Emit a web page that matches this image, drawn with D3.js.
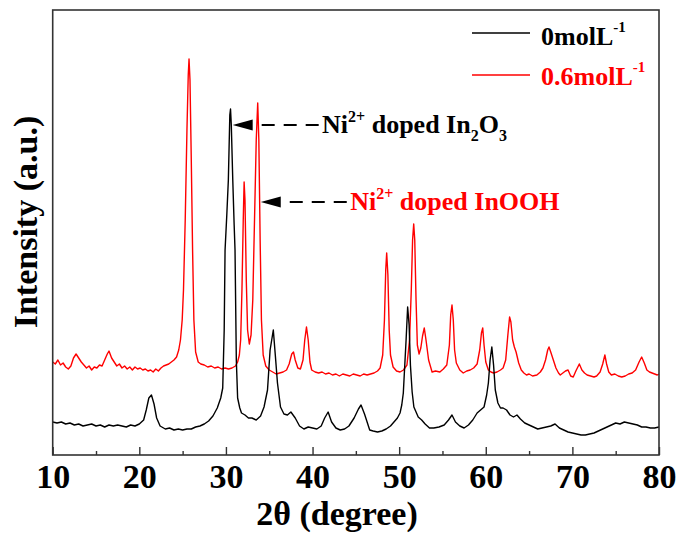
<!DOCTYPE html>
<html>
<head>
<meta charset="utf-8">
<script src="https://cdn.jsdelivr.net/npm/d3@7"></script>
<style>
  html, body { margin: 0; padding: 0; background: #fff; }
  svg { display: block; }
  text { font-family: "Liberation Serif", "Times New Roman", serif; font-weight: bold; }
</style>
</head>
<body>
<svg id="chart" width="684" height="535"></svg>
<script>
// ---------- data ----------
const xTicksMajor = [10, 20, 30, 40, 50, 60, 70, 80];
const xTicksMinor = [15, 25, 35, 45, 55, 65, 75];

const theta0 = [10.0,10.5,11.0,11.5,12.0,12.5,13.0,13.5,14.0,14.5,15.0,15.5,16.0,16.5,17.0,17.5,18.0,18.5,19.0,19.5,20.0,20.5,20.8,21.1,21.4,21.7,22.0,22.4,23.0,23.5,24.0,24.5,25.0,25.5,26.0,26.5,27.0,27.5,28.0,28.5,29.0,29.4,29.63,29.8,29.9,30.1,30.28,30.45,30.53,30.62,30.79,30.95,31.05,31.2,31.35,31.6,31.8,32.2,32.6,33.0,33.5,34.0,34.4,34.8,35.1,35.47,35.7,35.95,36.3,36.7,37.1,37.5,38.0,38.5,39.0,39.5,40.0,40.5,41.0,41.4,41.8,42.2,42.7,43.2,43.7,44.2,44.8,45.3,45.6,46.0,46.6,47.0,47.5,48.0,48.5,49.0,49.3,49.8,50.1,50.3,50.48,50.8,50.98,51.15,51.3,51.5,51.7,52.2,52.6,53.0,53.5,54.0,54.6,55.2,55.7,56.1,56.5,57.0,57.5,58.0,58.5,59.0,59.4,59.8,60.1,60.3,60.5,60.7,60.9,61.1,61.4,61.7,62.0,62.4,62.8,63.2,63.6,64.0,64.5,65.0,65.5,66.0,66.5,67.0,67.5,68.0,68.5,69.0,69.5,70.0,70.5,71.0,71.5,72.0,72.5,73.0,73.5,74.0,74.5,75.0,75.5,76.0,76.5,77.0,77.5,78.0,78.5,79.0,79.5,80.0];
const intensity0 = [33,32,33,31,32,30,31,29,30,31,29,30,28,30,29,30,29,28,30,29,31,35,45,57,60,51,37,29,26,27,25,26,25,26,26,28,29,31,34,39,47,57,67,125,205,240,275,340,346,330,275,230,205,95,57,47,42,40,37,37,35,39,48,65,105,125,100,72,48,41,40,43,37,29,26,28,27,26,29,37,43,33,27,25,26,29,37,46,50,41,25,24,23,24,26,29,32,37,42,50,62,115,148,130,90,63,48,38,35,31,27,27,28,30,35,40,33,29,27,30,35,42,45,48,60,72,95,108,90,65,52,47,47,45,40,38,40,36,32,30,28,26,27,28,29,31,27,25,23,22,21,20,20,21,22,24,26,28,30,32,31,33,32,31,30,28,28,27,27,28];

const theta06 = [10.0,10.3,10.6,10.9,11.2,11.5,11.8,12.1,12.4,12.7,13.0,13.3,13.6,13.9,14.2,14.5,14.8,15.1,15.4,15.7,16.0,16.3,16.5,16.8,17.1,17.4,17.7,18.0,18.3,18.6,18.9,19.2,19.5,19.8,20.1,20.4,20.7,21.0,21.3,21.6,21.9,22.2,22.5,22.8,23.1,23.4,23.7,24.0,24.3,24.55,24.75,24.95,25.1,25.3,25.5,25.65,25.74,25.85,26.0,26.15,26.3,26.5,26.8,27.1,27.5,27.9,28.3,28.7,29.1,29.5,29.9,30.3,30.7,31.1,31.35,31.55,31.7,31.85,32.0,32.1,32.2,32.35,32.5,32.7,32.9,33.1,33.3,33.5,33.67,33.8,33.95,34.1,34.3,34.6,35.0,35.4,35.8,36.2,36.6,37.0,37.3,37.6,37.8,38.0,38.3,38.6,38.9,39.1,39.3,39.5,39.7,39.9,40.3,40.7,41.1,41.5,41.9,42.3,42.7,43.1,43.5,43.9,44.3,44.7,45.1,45.5,45.9,46.3,46.7,47.1,47.5,47.8,48.1,48.3,48.45,48.56,48.7,48.85,49.0,49.3,49.7,50.1,50.5,50.9,51.2,51.4,51.55,51.68,51.8,51.95,52.1,52.3,52.5,52.7,52.9,53.1,53.4,53.8,54.2,54.7,55.1,55.5,55.8,55.95,56.1,56.25,56.4,56.6,57.0,57.4,57.8,58.2,58.6,59.0,59.3,59.5,59.65,59.8,60.0,60.3,60.6,60.9,61.3,61.7,62.0,62.3,62.55,62.75,62.9,63.1,63.3,63.5,63.8,64.1,64.4,64.7,65.0,65.4,65.9,66.3,66.6,66.9,67.15,67.3,67.5,67.8,68.1,68.4,68.6,68.9,69.2,69.5,69.8,70.1,70.4,70.8,71.1,71.4,71.7,72.1,72.5,72.8,73.2,73.5,73.75,73.95,74.2,74.5,74.9,75.3,75.7,76.1,76.5,76.9,77.3,77.7,78.0,78.3,78.6,78.9,79.2,79.5,79.8,80.0];
const intensity06 = [93,91,95,90,92,88,86,89,97,101,97,93,90,87,89,85,88,87,90,89,95,101,104,97,93,89,91,87,89,86,88,85,88,86,87,85,86,84,85,83,86,84,87,89,90,91,93,95,98,105,115,135,165,235,325,380,396,375,295,205,135,103,93,91,90,88,89,87,88,86,87,86,87,89,93,100,115,165,235,273,255,175,125,111,120,155,235,315,352,315,215,135,100,89,85,83,81,82,83,85,91,101,103,95,87,86,95,115,128,115,93,85,83,82,83,81,82,80,81,79,81,80,79,81,80,79,81,80,81,82,84,87,100,135,185,202,180,125,100,88,84,83,85,90,115,165,215,231,215,155,110,101,107,119,127,115,95,83,84,83,86,90,110,140,150,135,105,92,85,82,84,85,87,91,105,122,127,110,93,85,83,82,83,85,87,95,120,138,133,115,108,103,92,85,82,80,81,79,80,83,87,95,105,108,103,95,87,82,80,82,84,85,79,78,84,91,85,82,80,79,78,79,83,91,100,91,83,80,81,79,78,79,81,82,85,93,98,92,85,83,82,81,80,81];

const seriesNames = ["0molL", "0.6molL"];
const seriesColors = ["#000000", "#ff0000"];

// annotation anchors (data coordinates)
const annoTip = [[30.78, 330], [34.02, 253]];
const annoText = [[41.1, 322], [44.35, 245]];

// ---------- layout ----------
const svg = d3.select("#chart");
const pLeft = 52.7, pRight = 659, pTop = 10, pBottom = 455;
const x = d3.scaleLinear().domain([10, 80]).range([pLeft, pRight]);
const y = d3.scaleLinear().domain([0, 445]).range([pBottom, pTop]);

// data lines
const line = d3.line().x(d => x(d[0])).y(d => y(d[1]));
const s0 = theta0.map((t, i) => [t, intensity0[i]]);
const s06 = theta06.map((t, i) => [t, intensity06[i]]);
svg.append("path").datum(s06).attr("d", line).attr("fill", "none")
  .attr("stroke", seriesColors[1]).attr("stroke-width", 1.4).attr("stroke-linejoin", "round");
svg.append("path").datum(s0).attr("d", line).attr("fill", "none")
  .attr("stroke", seriesColors[0]).attr("stroke-width", 1.4).attr("stroke-linejoin", "round");

// frame
svg.append("rect").attr("x", pLeft).attr("y", pTop)
  .attr("width", pRight - pLeft).attr("height", pBottom - pTop)
  .attr("fill", "none").attr("stroke", "#333").attr("stroke-width", 1.6);

// axes
const axMaj = d3.axisBottom(x).tickValues(xTicksMajor).tickSize(-8).tickPadding(9).tickFormat(d3.format("d"));
const gMaj = svg.append("g").attr("transform", `translate(0,${pBottom})`).call(axMaj);
gMaj.select(".domain").remove();
gMaj.selectAll(".tick line").attr("stroke", "#333").attr("stroke-width", 1.4);
gMaj.selectAll(".tick text").attr("font-size", 34).attr("fill", "#000")
  .style("font-family", '"Liberation Serif", "Times New Roman", serif').style("font-weight", "bold");
const axMin = d3.axisBottom(x).tickValues(xTicksMinor).tickSize(-4).tickFormat("");
const gMin = svg.append("g").attr("transform", `translate(0,${pBottom})`).call(axMin);
gMin.select(".domain").remove();
gMin.selectAll(".tick line").attr("stroke", "#333").attr("stroke-width", 1.4);

// axis titles
svg.append("text").attr("x", 337).attr("y", 525).attr("text-anchor", "middle")
  .attr("font-size", 34).attr("fill", "#000").text("2θ (degree)");
svg.append("text").attr("transform", "translate(37,222) rotate(-90)").attr("text-anchor", "middle")
  .attr("font-size", 34).attr("fill", "#000").text("Intensity (a.u.)");

// legend
const legY = [33, 75];
const legBase = [45, 85];
seriesNames.forEach((n, i) => {
  svg.append("line").attr("x1", 472).attr("x2", 530).attr("y1", legY[i]).attr("y2", legY[i])
    .attr("stroke", seriesColors[i]).attr("stroke-width", 1.6);
  const t = svg.append("text").attr("x", 541).attr("y", legBase[i]).attr("font-size", 26).attr("fill", seriesColors[i]);
  t.append("tspan").text(n);
  t.append("tspan").attr("font-size", 15).attr("dy", -13).text("-1");
});

// annotations
function arrow(tip, txt, color, parts) {
  const tx = x(tip[0]), ty = y(tip[1]);
  svg.append("path")
    .attr("d", `M${tx},${ty} L${tx + 20},${ty - 5.5} L${tx + 20},${ty + 5.5} Z`)
    .attr("fill", "#000");
  const sx = x(txt[0]);
  svg.append("line").attr("x1", tx + 29).attr("x2", sx - 3).attr("y1", ty).attr("y2", ty)
    .attr("stroke", "#000").attr("stroke-width", 2).attr("stroke-dasharray", "13,9");
  const t = svg.append("text").attr("x", sx).attr("y", y(txt[1])).attr("font-size", 26).attr("fill", color);
  parts.forEach(p => {
    const s = t.append("tspan").text(p.t);
    if (p.size) s.attr("font-size", p.size);
    if (p.dy) s.attr("dy", p.dy);
  });
}
arrow(annoTip[0], annoText[0], "#000", [
  {t: "Ni"}, {t: "2+", size: 16, dy: -11}, {t: " doped In", dy: 11},
  {t: "2", size: 16, dy: 8}, {t: "O", dy: -8}, {t: "3", size: 16, dy: 8}
]);
arrow(annoTip[1], annoText[1], "#ff0000", [
  {t: "Ni"}, {t: "2+", size: 16, dy: -11}, {t: " doped InOOH", dy: 11}
]);
</script>
</body>
</html>
